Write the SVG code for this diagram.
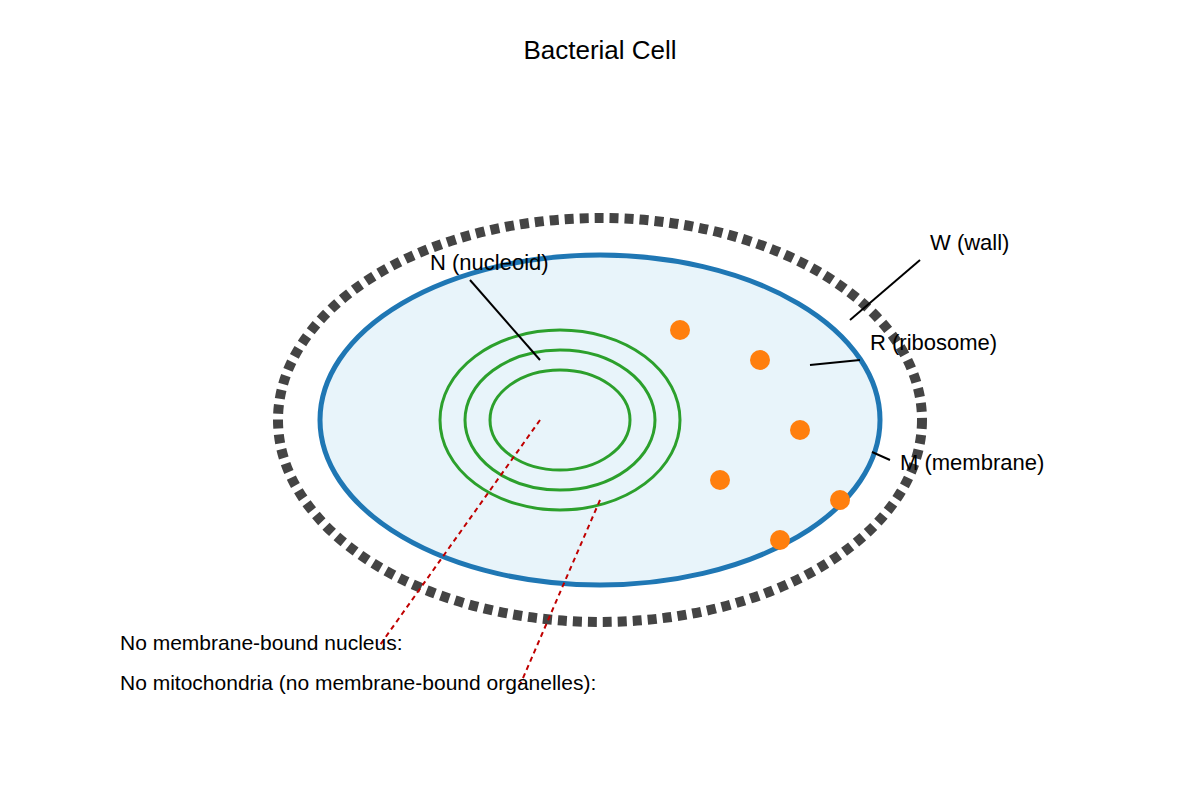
<svg xmlns="http://www.w3.org/2000/svg" width="1200" height="800" viewBox="0 0 1200 800">
<style>
text{font-family:"Liberation Sans",Arial,sans-serif;fill:#000}
.lbl{font-size:22px}
.note{font-size:21px}
.ring{fill:none;stroke:#2ca02c;stroke-width:3}
.rib{fill:#ff7f0e}
.lead{stroke:#000;stroke-width:2}
.red{stroke:#c00000;stroke-width:2;stroke-dasharray:5,4}
</style>
<rect width="1200" height="800" fill="#fff"/>
<text x="600" y="59" font-size="26" text-anchor="middle">Bacterial Cell</text>
<g id="wall"><ellipse cx="600" cy="420" rx="322" ry="202" fill="none" stroke="#444" stroke-width="10" stroke-dasharray="9,6"/></g>
<g id="membrane"><ellipse cx="600" cy="420" rx="280" ry="165" fill="#e8f4fa" stroke="#1f77b4" stroke-width="5"/></g>
<g id="nucleoid">
<ellipse class="ring" cx="560" cy="420" rx="120" ry="90"/>
<ellipse class="ring" cx="560" cy="420" rx="95" ry="70"/>
<ellipse class="ring" cx="560" cy="420" rx="70" ry="50"/>
</g>
<g id="ribosomes">
<circle class="rib" cx="680" cy="330" r="10"/>
<circle class="rib" cx="760" cy="360" r="10"/>
<circle class="rib" cx="800" cy="430" r="10"/>
<circle class="rib" cx="720" cy="480" r="10"/>
<circle class="rib" cx="840" cy="500" r="10"/>
<circle class="rib" cx="780" cy="540" r="10"/>
</g>
<g id="connectors">
<line class="lead" x1="470" y1="280" x2="540" y2="360"/>
<line class="lead" x1="920" y1="260" x2="850" y2="320"/>
<line class="lead" x1="810" y1="365" x2="860" y2="360"/>
<line class="lead" x1="872" y1="452" x2="890" y2="460"/>
<line class="red" x1="540" y1="420" x2="380" y2="645"/>
<line class="red" x1="600" y1="500" x2="520" y2="685"/>
</g>
<g id="labels">
<text class="lbl" x="430" y="270">N (nucleoid)</text>
<text class="lbl" x="930" y="250">W (wall)</text>
<text class="lbl" x="870" y="350">R (ribosome)</text>
<text class="lbl" x="900" y="470">M (membrane)</text>
<text class="note" x="120" y="650">No membrane-bound nucleus:</text>
<text class="note" x="120" y="690">No mitochondria (no membrane-bound organelles):</text>
</g>
</svg>
